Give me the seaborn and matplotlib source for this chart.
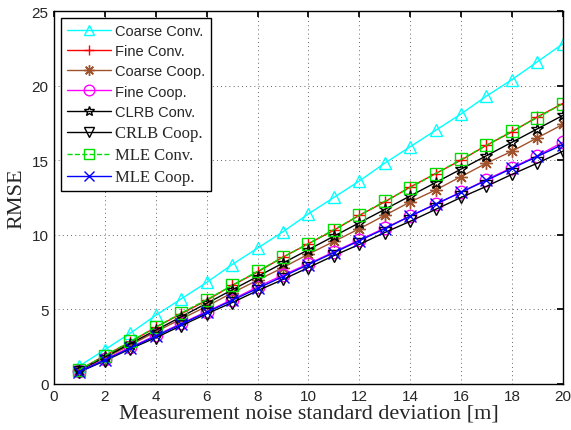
import matplotlib
matplotlib.use("Agg")
import matplotlib.pyplot as plt
import pandas as pd
import seaborn as sns

sns.set_theme(style="white")
plt.rcParams['font.family'] = ['Liberation Serif', 'DejaVu Serif']

# Data
noise_std = list(range(1, 21))
coarse_conv = [1.2, 2.3, 3.4, 4.6, 5.7, 6.8, 8.0, 9.1, 10.2, 11.4, 12.5, 13.6, 14.8, 15.9, 17.0, 18.1, 19.3, 20.4, 21.6, 22.8]
fine_conv = [0.95, 1.9, 2.8, 3.8, 4.7, 5.6, 6.6, 7.5, 8.5, 9.4, 10.3, 11.3, 12.2, 13.2, 14.1, 15.0, 16.0, 16.9, 17.9, 18.8]
coarse_coop = [0.9, 1.75, 2.6, 3.5, 4.35, 5.2, 6.1, 6.95, 7.8, 8.7, 9.55, 10.4, 11.3, 12.2, 13.0, 13.9, 14.8, 15.6, 16.5, 17.4]
fine_coop = [0.85, 1.65, 2.45, 3.25, 4.05, 4.85, 5.65, 6.5, 7.3, 8.05, 8.85, 9.65, 10.45, 11.25, 12.05, 12.85, 13.7, 14.5, 15.3, 16.2]
clrb_conv = [0.92, 1.8, 2.7, 3.6, 4.5, 5.4, 6.3, 7.2, 8.1, 9.0, 9.9, 10.8, 11.7, 12.6, 13.5, 14.4, 15.3, 16.2, 17.1, 18.0]
crlb_coop = [0.8, 1.55, 2.35, 3.1, 3.9, 4.7, 5.45, 6.25, 7.0, 7.8, 8.6, 9.35, 10.15, 10.9, 11.7, 12.5, 13.25, 14.05, 14.8, 15.6]
mle_conv = [0.95, 1.9, 2.85, 3.8, 4.75, 5.65, 6.6, 7.55, 8.5, 9.4, 10.35, 11.3, 12.25, 13.15, 14.1, 15.05, 16.0, 16.95, 17.85, 18.8]
mle_coop = [0.82, 1.6, 2.4, 3.2, 4.0, 4.8, 5.6, 6.4, 7.2, 8.0, 8.8, 9.6, 10.4, 11.25, 12.05, 12.85, 13.65, 14.45, 15.25, 16.05]

asterisk = (8, 2, 0)
series = [
    ('Coarse Conv.', coarse_conv, 'cyan', '^', '-', True, 'sans'),
    ('Fine Conv.', fine_conv, 'red', '+', '-', False, 'sans'),
    ('Coarse Coop.', coarse_coop, '#a0522d', asterisk, '-', False, 'sans'),
    ('Fine Coop.', fine_coop, 'magenta', 'o', '-', True, 'sans'),
    ('CLRB Conv.', clrb_conv, 'black', '*', '-', True, 'sans'),
    ('CRLB Coop.', crlb_coop, 'black', 'v', '-', True, 'serif'),
    ('MLE Conv.', mle_conv, '#00dd00', 's', '--', True, 'serif'),
    ('MLE Coop.', mle_coop, 'blue', 'x', '-', False, 'serif'),
]

fig = plt.figure(figsize=(5.71, 4.31), dpi=100)
ax = fig.add_axes([0.0946, 0.107, 0.891, 0.865])

for name, vals, color, marker, ls, hollow, fam in series:
    df = pd.DataFrame({'x': noise_std, 'y': vals})
    kw = dict(markerfacecolor='none', markeredgecolor=color) if hollow else dict(markeredgecolor=color)
    sns.lineplot(data=df, x='x', y='y', ax=ax, color=color, marker=marker, linestyle=ls,
                 linewidth=1.0, markersize=9, markeredgewidth=1.0, label=name, **kw)

ax.set_xlim(0, 20)
ax.set_ylim(0, 25)
ax.set_xticks(range(0, 21, 2))
ax.set_yticks(range(0, 26, 5))
ax.grid(True, color='#333333', linestyle=(0, (1, 4)), linewidth=0.6)
ax.tick_params(direction='in', length=4, labelsize=11, top=True, right=True, color='black', pad=4)
for lab in ax.get_xticklabels() + ax.get_yticklabels():
    lab.set_family(['Liberation Sans', 'DejaVu Sans'])
for sp in ax.spines.values():
    sp.set_color('black')
    sp.set_linewidth(1.0)
ax.set_xlabel('Measurement noise standard deviation [m]', fontsize=16, labelpad=0)
ax.set_ylabel('RMSE', fontsize=16, labelpad=4)

leg = ax.legend(loc='upper left', fontsize=10.5, frameon=True, fancybox=False,
                edgecolor='black', framealpha=1, handlelength=3.0, borderaxespad=0.5,
                labelspacing=0.42, handletextpad=0.3, borderpad=0.4, markerscale=0.85)
leg.get_frame().set_linewidth(1.0)
for txt, s in zip(leg.get_texts(), series):
    if s[6] == 'sans':
        txt.set_family(['Liberation Sans', 'DejaVu Sans'])
    else:
        txt.set_family(['Liberation Serif', 'DejaVu Serif'])
        txt.set_fontsize(12)

fig.savefig('out.png', dpi=100)
